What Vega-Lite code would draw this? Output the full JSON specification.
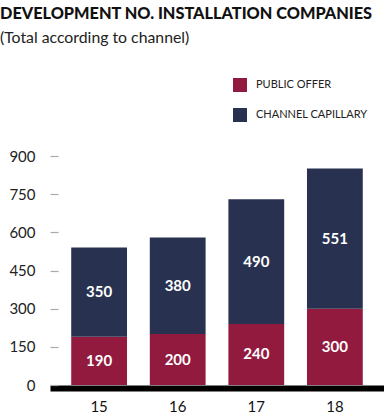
{
  "$schema": "https://vega.github.io/schema/vega-lite/v6.json",
  "width": 334,
  "height": 229,
  "autosize": "none",
  "padding": {"left": 50, "top": 156, "right": 0, "bottom": 32},
  "background": "white",
  "config": {"view": {"stroke": null}},
  "title": {
    "text": "DEVELOPMENT NO. INSTALLATION COMPANIES",
    "subtitle": "(Total according to channel)",
    "anchor": "start",
    "frame": "group",
    "dx": -50,
    "offset": 32,
    "font": "Lato",
    "fontSize": 16.3,
    "fontWeight": 900,
    "color": "#111111",
    "subtitleFont": "Lato",
    "subtitleFontSize": 15.8,
    "subtitleColor": "#222222",
    "subtitlePadding": 9
  },
  "data": {
    "values": [
      {"year": "15", "channel": "PUBLIC OFFER", "order": 1, "value": 190},
      {"year": "15", "channel": "CHANNEL CAPILLARY", "order": 2, "value": 350},
      {"year": "16", "channel": "PUBLIC OFFER", "order": 1, "value": 200},
      {"year": "16", "channel": "CHANNEL CAPILLARY", "order": 2, "value": 380},
      {"year": "17", "channel": "PUBLIC OFFER", "order": 1, "value": 240},
      {"year": "17", "channel": "CHANNEL CAPILLARY", "order": 2, "value": 490},
      {"year": "18", "channel": "PUBLIC OFFER", "order": 1, "value": 300},
      {"year": "18", "channel": "CHANNEL CAPILLARY", "order": 2, "value": 551}
    ]
  },
  "transform": [
    {"stack": "value", "groupby": ["year"], "sort": [{"field": "order"}], "as": ["v0", "v1"]},
    {"calculate": "(datum.v0 + datum.v1) / 2", "as": "mid"}
  ],
  "encoding": {
    "x": {
      "field": "year",
      "type": "ordinal",
      "scale": {"paddingInner": 0.29, "paddingOuter": 0.27},
      "axis": {
        "title": null,
        "labelAngle": 0,
        "ticks": false,
        "domainColor": "#000000",
        "domainWidth": 6,
        "offset": 3,
        "labelPadding": 11,
        "labelFont": "Lato",
        "labelFontSize": 15,
        "labelColor": "#111111"
      }
    }
  },
  "layer": [
    {
      "mark": {"type": "bar"},
      "encoding": {
        "y": {
          "field": "v0",
          "type": "quantitative",
          "scale": {"domain": [0, 900], "nice": false},
          "axis": {
            "title": null,
            "values": [0, 150, 300, 450, 600, 750, 900],
            "labelOverlap": false,
            "domain": false,
            "grid": false,
            "tickSize": -8,
            "tickColor": "#aaaaaa",
            "tickWidth": 1.2,
            "labelPadding": 23,
            "labelFont": "Lato",
            "labelFontSize": 15,
            "labelColor": "#222222"
          }
        },
        "y2": {"field": "v1"},
        "color": {
          "field": "channel",
          "type": "nominal",
          "scale": {"domain": ["PUBLIC OFFER", "CHANNEL CAPILLARY"], "range": ["#921a3e", "#283250"]},
          "legend": {
            "title": null,
            "orient": "none",
            "legendX": 183,
            "legendY": -78,
            "symbolType": "square",
            "symbolSize": 196,
            "symbolStrokeWidth": 0,
            "symbolOpacity": 1,
            "labelFont": "Lato",
            "labelFontSize": 11,
            "labelColor": "#222222",
            "labelOffset": 9,
            "rowPadding": 16
          }
        }
      }
    },
    {
      "mark": {"type": "text", "color": "white", "font": "Lato", "fontSize": 15, "fontWeight": "bold", "baseline": "middle"},
      "encoding": {
        "y": {
          "field": "mid",
          "type": "quantitative",
          "axis": {
            "title": null,
            "values": [0, 150, 300, 450, 600, 750, 900],
            "labelOverlap": false,
            "domain": false,
            "grid": false,
            "tickSize": -8,
            "tickColor": "#aaaaaa",
            "tickWidth": 1.2,
            "labelPadding": 23,
            "labelFont": "Lato",
            "labelFontSize": 15,
            "labelColor": "#222222"
          }
        },
        "text": {"field": "value", "type": "quantitative"}
      }
    }
  ]
}
